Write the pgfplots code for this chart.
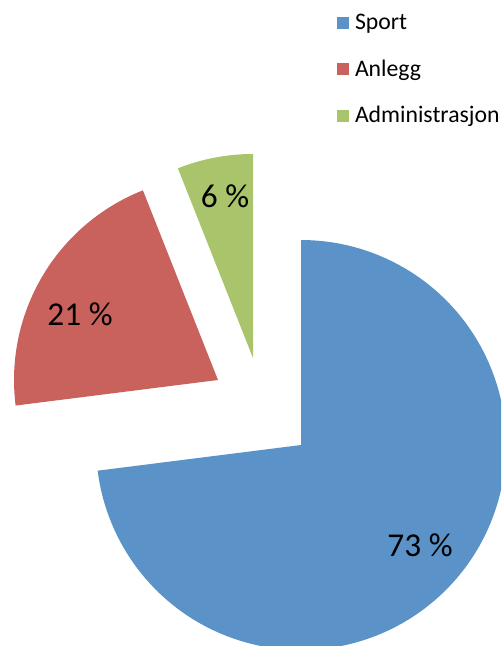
\documentclass[border=0pt]{standalone}
\usepackage{pgfplots}
\pgfplotsset{compat=1.18}
\usepackage{fontspec}
\setmainfont{Carlito}
\definecolor{cSport}{HTML}{5B93C9}
\definecolor{cAnlegg}{HTML}{C9625D}
\definecolor{cAdmin}{HTML}{AAC46B}
% values (percent)
\def\vSport{73}
\def\vAnlegg{21}
\def\vAdmin{6}
\begin{document}
\begin{tikzpicture}
\begin{axis}[
  scale only axis, width=375.75pt, height=484.5pt,
  xmin=0, xmax=501, ymin=0, ymax=646,
  hide axis,
  legend image code/.code={\fill[#1] (0pt,-4.5pt) rectangle (9pt,4.5pt);},
  legend cell align=left,
  legend style={draw=none, fill=none, at={(axis cs:337,635)}, anchor=north west,
    font=\fontsize{17.8}{21}\selectfont, row sep=17.2pt, inner sep=0pt,
    nodes={inner xsep=4.3pt, inner ysep=2pt}},
]
\pgfmathsetmacro{\aA}{90}
\pgfmathsetmacro{\aB}{90-3.6*\vSport}
\pgfmathsetmacro{\aC}{\aB-3.6*\vAnlegg}
\pgfmathsetmacro{\aD}{\aC-3.6*\vAdmin}
\addplot[fill=cSport, draw=none, domain=\aB:\aA, samples=120, variable=\t]
  ({301+205*cos(\t)}, {201+205*sin(\t)}) -- (axis cs:301,201) -- cycle;
\addlegendentry{Sport}
\addplot[fill=cAnlegg, draw=none, domain=\aC:\aB, samples=60, variable=\t]
  ({218+204*cos(\t)}, {266+204*sin(\t)}) -- (axis cs:218,266) -- cycle;
\addlegendentry{Anlegg}
\addplot[fill=cAdmin, draw=none, domain=\aD:\aC, samples=30, variable=\t]
  ({253+204*cos(\t)}, {288+204*sin(\t)}) -- (axis cs:253,288) -- cycle;
\addlegendentry{Administrasjon}
\node[font=\fontsize{25}{29}\selectfont] at (axis cs:420,100.5) {73~\%};
\node[font=\fontsize{25}{29}\selectfont] at (axis cs:80,332) {21~\%};
\node[font=\fontsize{25}{29}\selectfont] at (axis cs:225,450) {6~\%};
\end{axis}
\pgfresetboundingbox
\path[use as bounding box] (current axis.south west) rectangle (current axis.north east);
\end{tikzpicture}
\end{document}
